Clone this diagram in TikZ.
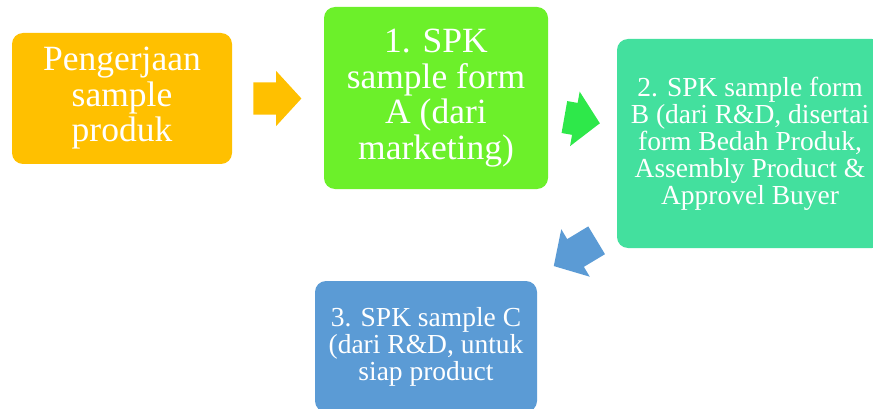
\documentclass[tikz,border=0pt]{standalone}
\usepackage{fontspec}
\setmainfont{Liberation Serif}
\usetikzlibrary{shapes.arrows, calc}
\usepackage{xcolor}
\definecolor{stageorange}{HTML}{FFC000}
\definecolor{stagelime}{HTML}{6CF02A}
\definecolor{stageteal}{HTML}{43E09E}
\definecolor{stageblue}{HTML}{5B9BD5}
\definecolor{arrowgreen}{HTML}{2EE84A}

\begin{document}
\begin{tikzpicture}[
  x=1pt, y=-1pt,
  stage/.style={rectangle, rounded corners=11pt, align=center, text=white, inner sep=0pt},
  bigtext/.style={font=\fontsize{35.5}{35.5}\selectfont},
  smalltext/.style={font=\fontsize{27.5}{27}\selectfont},
  blockarrow/.style={single arrow, anchor=tail, single arrow head extend=11.5pt, single arrow tip angle=95, inner xsep=0pt, inner ysep=16pt}
]
\useasboundingbox (0,0) rectangle (873,409);

% Stages (placed by centre, sizes from the reference)
\node[stage, bigtext, fill=stageorange, minimum width=220pt, minimum height=131pt] (prod) at (122,98.5) {Pengerjaan\\sample\\produk};
\node[stage, bigtext, fill=stagelime, minimum width=224pt, minimum height=182pt] (spkA) at (436,98) {1. SPK\\sample form\\A (dari\\marketing)};
\node[stage, smalltext, fill=stageteal, minimum width=266pt, minimum height=209pt] (spkB) at (750,143.5) {2. SPK sample form\\B (dari R\&D, disertai\\form Bedah Produk,\\Assembly Product \&\\Approvel Buyer};
\node[stage, smalltext, fill=stageblue, minimum width=222pt, minimum height=131pt] (spkC) at (426,346.5) {3. SPK sample C\\(dari R\&D, untuk\\siap product};

% Block arrows between the stages (tail placed next to the stage it leaves)
\node[blockarrow, fill=stageorange, minimum height=48pt] (a1) at ($(prod.east)+(21,0)$) {};
\node[blockarrow, fill=arrowgreen, minimum height=36pt, rotate=-10] (a2) at ($(spkA.east)+(16,19)$) {};
\node[blockarrow, fill=stageblue, minimum height=50pt, rotate=211] (a3) at ($(spkB.south west)+(-20,-8)$) {};
\end{tikzpicture}
\end{document}
